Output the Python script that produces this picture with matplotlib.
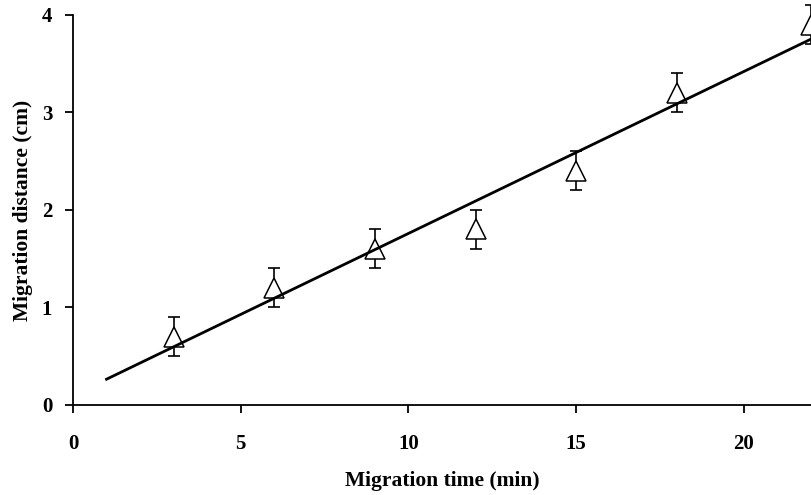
import numpy as np
import matplotlib
matplotlib.use('Agg')
import matplotlib.pyplot as plt

# migration data
time_min = [3, 6, 9, 12, 15, 18, 22]
distance_cm = [0.7, 1.2, 1.6, 1.8, 2.4, 3.2, 3.9]
err_cm = [0.2, 0.2, 0.2, 0.2, 0.2, 0.2, 0.2]
fit_range = [1, 22]

plt.rcParams['font.family'] = ['Liberation Serif', 'DejaVu Serif']
plt.rcParams['font.weight'] = 'bold'

fig = plt.figure(figsize=(8.11, 4.95), dpi=100)
ax = fig.add_axes([0.09, 0.182, 0.91, 0.788])

# error bars + open triangles
ax.errorbar(time_min, distance_cm, yerr=err_cm, fmt='none', ecolor='black',
            elinewidth=1.2, capsize=4, capthick=1.2, zorder=2, clip_on=False)
ax.plot(time_min, distance_cm, linestyle='none', marker='^', markersize=15,
        markerfacecolor='white', markeredgecolor='black', markeredgewidth=1.1,
        zorder=3, clip_on=False)

# linear trend line
slope, icpt = np.polyfit(time_min, distance_cm, 1)
xs = np.array(fit_range)
ax.plot(xs, slope * xs + icpt, color='black', linewidth=2, zorder=4)

ax.set_xlim(0, 22)
ax.set_ylim(0, 4)
ax.set_xticks([0, 5, 10, 15, 20])
ax.set_yticks([0, 1, 2, 3, 4])

for s in ['top', 'right']:
    ax.spines[s].set_visible(False)
for s in ['left', 'bottom']:
    ax.spines[s].set_linewidth(1.3)

ax.tick_params(axis='x', direction='out', length=6, width=1.3, pad=15, labelsize=15)
ax.tick_params(axis='y', direction='out', length=6, width=1.3, pad=9, labelsize=15)

ax.set_xlabel('Migration time (min)', fontsize=15.5, fontweight='bold', labelpad=12)
ax.set_ylabel('Migration distance (cm)', fontsize=15.5, fontweight='bold', labelpad=6)

fig.savefig('out.png', dpi=100)
